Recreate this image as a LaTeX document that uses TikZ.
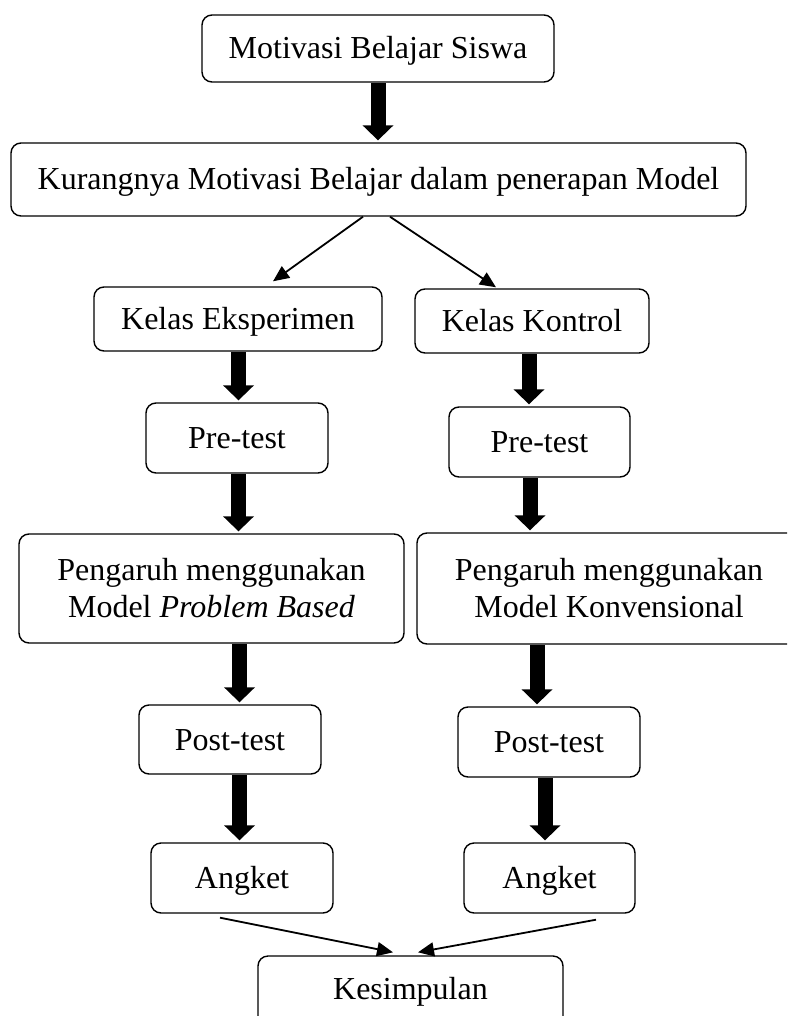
\documentclass[tikz,border=0pt]{standalone}
\usepackage{fontspec}
\setmainfont{Liberation Serif}
\usetikzlibrary{arrows.meta,calc}
\newcommand\thickarr[3]{%
  \fill (#1.south -| #3) ++(-7.5,0) rectangle ($(#2.north -| #3)+(7.5,-16)$);
  \fill ($(#2.north -| #3)+(-15.5,-17)$) -- ($(#2.north -| #3)+(0,-2)$) -- ($(#2.north -| #3)+(15.5,-17)$) -- cycle;}
\begin{document}
\begin{tikzpicture}[x=1pt,y=-1pt,
  box/.style={draw, line width=1.4pt, rounded corners=10pt, inner sep=0pt,
    font=\fontsize{32}{37}\selectfont, align=center},
  one/.style={text height=21pt, text depth=0pt},
  thinarr/.style={line width=1.8pt, -{Triangle[length=16pt,width=14pt]}},
]
\useasboundingbox (0,0) rectangle (787,1016);
\clip (0,0) rectangle (787,1016);

\node[box,one,minimum width=352pt,minimum height=67pt] (top) at (378,48.5) {Motivasi Belajar Siswa};
\node[box,one,minimum width=735pt,minimum height=73pt] (kur) at (378.5,179.5) {Kurangnya Motivasi Belajar dalam penerapan Model};
\node[box,one,minimum width=288pt,minimum height=64pt] (eks) at (238,319) {Kelas Eksperimen};
\node[box,one,minimum width=234pt,minimum height=64pt] (kon) at (532,321) {Kelas Kontrol};
\node[box,one,minimum width=182pt,minimum height=70pt] (preL) at (237,438) {Pre-test};
\node[box,one,minimum width=181pt,minimum height=70pt] (preR) at (539.5,442) {Pre-test};
\node[box,minimum width=385pt,minimum height=109pt] (pengL) at (211.5,588.5) {Pengaruh menggunakan\\Model \textit{Problem Based}};
\node[box,minimum width=384pt,minimum height=111pt] (pengR) at (609,588.5) {Pengaruh menggunakan\\Model Konvensional};
\node[box,one,minimum width=182pt,minimum height=69pt] (postL) at (230,739.5) {Post-test};
\node[box,one,minimum width=182pt,minimum height=70pt] (postR) at (549,742) {Post-test};
\node[box,one,minimum width=182pt,minimum height=70pt] (angL) at (242,878) {Angket};
\node[box,one,minimum width=171pt,minimum height=70pt] (angR) at (549.5,878) {Angket};
\node[box,one,text depth=10pt,minimum width=305pt,minimum height=76pt] (kes) at (410.5,994) {Kesimpulan};

\coordinate (cT) at (378,0);
\coordinate (cLa) at (238.5,0);
\coordinate (cLb) at (239.5,0);
\coordinate (cRa) at (529,0);
\coordinate (cRb) at (530,0);
\coordinate (cRc) at (537,0);
\coordinate (cRd) at (545,0);

\thickarr{top}{kur}{cT}
\thickarr{eks}{preL}{cLa}
\thickarr{preL}{pengL}{cLa}
\thickarr{pengL}{postL}{cLb}
\thickarr{postL}{angL}{cLb}
\thickarr{kon}{preR}{cRa}
\thickarr{preR}{pengR}{cRb}
\thickarr{pengR}{postR}{cRc}
\thickarr{postR}{angR}{cRd}

\draw[thinarr] ($(kur.south)+(-15.5,0)$) -- ($(eks.north)+(35,-5)$);
\draw[thinarr] ($(kur.south)+(11.5,0)$) -- ($(kon.north)+(-36,-1)$);
\draw[thinarr] ($(angL.south)+(-22,4)$) -- ($(kes.north)+(-17.5,-3)$);
\draw[thinarr] ($(angR.south)+(46.5,6)$) -- ($(kes.north)+(7.5,-3)$);
\end{tikzpicture}
\end{document}
